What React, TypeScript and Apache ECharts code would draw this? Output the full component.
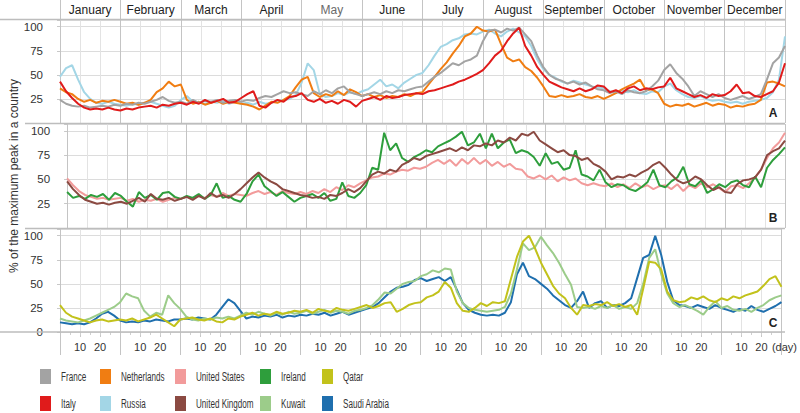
import React, { useEffect, useRef } from 'react';
import * as echarts from 'echarts';

// ---------- labels ----------
const months = ['January', 'February', 'March', 'April', 'May', 'June', 'July', 'August', 'September', 'October', 'November', 'December'];
const dayTickLabels = ['10', '20'];
const dayAxisName = '(day)';
const yAxisTitle = '% of the maximum peak in a country';
const panelLetters = ['A', 'B', 'C'];

// samples: 10 per month (month units on the x axis), plus the year end
const samplesPerMonth = 10;
const tPos = Array.from({ length: 12 * samplesPerMonth + 1 }, (_, i) => i / samplesPerMonth);

// ---------- panel A ----------
const france = [
  24, 20, 18, 17, 18, 16, 17, 18, 17, 19,
  18, 20, 19, 21, 20, 22, 24, 27, 23, 21,
  22, 20, 24, 21, 23, 22, 24, 21, 23, 24,
  22, 24, 23, 26, 28, 27, 30, 33, 31, 32,
  30, 28, 33, 30, 34, 31, 36, 38, 32, 30,
  28, 30, 32, 30, 33, 31, 34, 33, 35, 37,
  38, 43, 48, 52, 57, 62, 60, 64, 66, 70,
  85, 96, 97, 94, 98, 96, 99, 92, 85, 70,
  58, 50, 46, 44, 41, 43, 40, 42, 38, 35,
  34, 31, 33, 30, 34, 32, 31, 33, 38, 44,
  55, 61, 52, 46, 38, 28, 33, 30, 27, 30,
  26, 24, 26, 28, 25, 27, 30, 45, 62, 68, 80,
];
const italy = [
  43, 33, 26, 20, 16, 14, 15, 14, 16, 14,
  13, 15, 14, 16, 17, 18, 16, 19, 18, 20,
  21, 19, 22, 20, 24, 21, 23, 25, 21, 22,
  26, 30, 33, 18, 16, 21, 24, 22, 27, 28,
  31, 24, 22, 25, 21, 23, 20, 24, 22, 17,
  23, 25, 27, 24, 28, 26, 27, 29, 30, 31,
  30, 33, 34, 36, 38, 40, 43, 45, 48, 51,
  55, 62, 70, 75, 85, 93, 99, 80, 70, 58,
  50, 43, 40, 37, 35, 33, 36, 33, 35, 39,
  38, 32, 34, 31, 36, 38, 34, 36, 35, 37,
  38, 47, 36, 33, 30, 27, 29, 26, 30, 28,
  29, 33, 40, 31, 32, 28, 27, 30, 33, 42, 62,
];
const netherlands = [
  36, 32, 30, 25, 22, 24, 21, 23, 22, 24,
  22, 20, 21, 19, 21, 24, 32, 36, 43, 38,
  40, 24, 20, 22, 19, 21, 23, 20, 22, 21,
  20, 19, 17, 14, 18, 22, 21, 24, 28, 37,
  45, 48, 31, 27, 30, 28, 33, 29, 35, 32,
  28, 30, 27, 29, 26, 28, 27, 30, 28, 31,
  32, 40, 48, 56, 63, 72, 80, 90, 93, 100,
  96, 95, 97, 82, 68, 64, 66, 58, 54, 47,
  38, 28, 27, 29, 27, 28, 30, 27, 26, 28,
  25, 28, 31, 35, 38, 41, 45, 34, 35, 31,
  20, 17, 19, 18, 20, 17, 19, 21, 18, 20,
  19, 16, 18, 17, 19, 20, 24, 42, 43, 41, 38,
];
const russia = [
  48, 57, 60, 45, 32, 25, 21, 20, 22, 20,
  19, 18, 20, 19, 21, 22, 20, 18, 16, 18,
  24, 28, 22, 21, 20, 22, 21, 23, 20, 22,
  20, 21, 19, 22, 20, 21, 23, 24, 25, 29,
  42, 62, 55, 30, 27, 28, 31, 29, 32, 30,
  33, 35, 40, 45, 38, 40, 36, 42, 46, 50,
  52, 60, 70, 79, 82, 86, 88, 92, 93, 92,
  95, 97, 93, 90, 95, 98, 94, 90, 80, 66,
  56, 50, 47, 43, 41, 44, 42, 40, 38, 37,
  36, 33, 31, 34, 32, 34, 31, 30, 33, 32,
  38, 41, 34, 30, 27, 26, 28, 25, 23, 24,
  22, 21, 22, 20, 22, 23, 24, 26, 32, 45, 90,
];

// ---------- panel B ----------
const unitedStates = [
  51, 44, 38, 34, 32, 30, 31, 29, 30, 31,
  28, 30, 27, 29, 28, 30, 27, 29, 31, 30,
  32, 30, 33, 31, 34, 32, 36, 33, 35, 34,
  33, 36, 38, 35, 37, 34, 38, 36, 35, 37,
  35, 38, 36, 40, 37, 42, 39, 44, 42, 46,
  49, 52, 53, 56, 55, 58, 60, 59, 62, 61,
  63, 67, 70, 66, 70, 64, 71, 66, 72, 66,
  70, 64, 68, 63, 66, 61, 60, 53, 51, 54,
  50, 54, 48, 52, 49, 51, 46, 44, 46, 44,
  43, 46, 42, 45, 41, 46, 42, 44, 40, 43,
  44, 40, 45, 38, 44, 41, 46, 42, 45, 41,
  37, 43, 44, 41, 46, 52, 60, 72, 82, 88, 98,
];
const unitedKingdom = [
  48, 40, 34, 29, 27, 25, 26, 24, 26, 27,
  25, 28, 31, 27, 35, 30, 29, 31, 28, 30,
  32, 29, 33, 30, 36, 32, 34, 31, 35, 40,
  46, 52, 57, 52, 48, 45, 40, 38, 36, 34,
  33, 31, 32, 30, 34, 33, 36, 40, 37, 41,
  48, 55, 58, 56, 60, 58, 65, 68, 72, 70,
  74, 76, 78, 80, 82, 79, 83, 80, 85, 84,
  87, 85, 90, 88, 93, 90, 97, 95, 99, 90,
  86, 82, 78, 80, 75, 74, 70, 72, 66, 63,
  58, 50, 53, 52, 55, 53, 57, 60, 65, 68,
  62, 55, 49, 46, 48, 53, 50, 44, 39, 42,
  37, 36, 45, 49, 50, 52, 60, 75, 79, 82, 90,
];
const ireland = [
  37, 31, 33, 30, 34, 32, 35, 29, 36, 33,
  27, 22, 37, 31, 34, 29, 36, 37, 32, 30,
  33, 31, 35, 30, 34, 46, 31, 33, 29, 27,
  35, 48, 55, 43, 38, 33, 37, 32, 27, 31,
  33, 35, 31, 36, 28, 30, 47, 33, 31, 36,
  44, 62, 60, 98, 80, 87, 72, 68, 73, 76,
  80, 78, 84, 87, 90, 94, 99, 85, 88, 97,
  82, 97, 82, 88, 91, 77, 80, 78, 73, 64,
  77, 66, 68, 60, 62, 80, 55, 53, 49, 60,
  47, 42, 45, 44, 40, 38, 42, 47, 60, 44,
  42, 48, 52, 63, 45, 43, 49, 36, 40, 45,
  42, 47, 49, 44, 42, 53, 42, 62, 70, 76, 83,
];

// ---------- panel C ----------
const kuwait = [
  14, 12, 11, 10, 12, 14, 17, 20, 23, 26,
  31, 40, 37, 35, 22, 16, 20, 18, 38, 30,
  24, 16, 13, 12, 14, 13, 15, 14, 16, 14,
  17, 20, 18, 21, 19, 17, 20, 18, 21, 19,
  20, 22, 19, 21, 23, 20, 22, 21, 19, 22,
  23, 25, 28, 34, 41, 40, 45, 50, 52, 53,
  58, 60, 64, 62, 66, 65, 42, 30, 25, 23,
  22, 21, 22, 23, 26, 40, 65, 92, 85, 88,
  99, 90, 82, 72, 60, 49, 26, 25, 26, 24,
  27, 25, 28, 24, 26, 24, 30, 50, 77, 86,
  60, 40, 30, 26, 28, 25, 22, 18, 26, 32,
  25, 27, 23, 22, 24, 21, 25, 28, 33, 36, 38,
];
const qatar = [
  28, 20, 16, 14, 12, 10, 12, 13, 11, 12,
  13, 12, 14, 11, 13, 15, 18, 14, 10, 6,
  13, 14, 15, 13, 12, 14, 11, 10, 14, 13,
  16, 18, 20, 17, 19, 18, 21, 19, 20, 22,
  21, 23, 20, 24, 22, 21, 25, 23, 22, 24,
  26, 28, 25, 27, 30, 31, 21, 24, 28, 30,
  31, 36, 38, 42, 52, 46, 30, 22, 21, 25,
  30, 27, 31, 30, 32, 55, 78, 94, 100, 87,
  72, 60, 48, 40, 35, 25, 18, 28, 27, 29,
  28, 31, 27, 29, 26, 28, 18, 45, 73, 72,
  65, 42, 33, 31, 32, 36, 34, 37, 33, 31,
  35, 33, 37, 35, 38, 40, 42, 48, 55, 58, 47,
];
const saudiArabia = [
  10, 9, 8, 9, 8, 10, 14, 19, 21, 17,
  12, 10, 11, 10, 12, 11, 13, 12, 11, 13,
  13, 14, 13, 15, 14, 13, 18, 26, 34, 30,
  22, 14, 16, 15, 17, 16, 18, 15, 17, 16,
  18, 17, 19, 18, 20, 17, 19, 21, 18, 20,
  22, 24, 26, 30, 36, 42, 46, 47, 49, 54,
  56, 53, 55, 57, 53, 57, 44, 30, 23, 20,
  18, 17, 18, 17, 20, 31, 60, 72, 58, 55,
  50, 45, 38, 33, 28, 25, 32, 42, 25, 30,
  32, 25, 28, 27, 30, 35, 56, 77, 80, 100,
  80, 52, 33, 28, 27, 25, 28, 26, 24, 28,
  25, 23, 21, 24, 22, 27, 23, 21, 24, 27, 31,
];

const FONT = "'Liberation Sans', Arial, Helvetica, sans-serif";

type S = { name: string; color: string; values: number[]; panel: number };
// drawing order within each panel: later ones on top
const seriesDefs: S[] = [
  { name: 'Russia', color: '#a3d6e6', values: russia, panel: 1 },
  { name: 'Netherlands', color: '#f07d12', values: netherlands, panel: 1 },
  { name: 'France', color: '#a3a3a3', values: france, panel: 1 },
  { name: 'Italy', color: '#e01b1b', values: italy, panel: 1 },
  { name: 'United States', color: '#f29b9b', values: unitedStates, panel: 2 },
  { name: 'Ireland', color: '#2e9e3c', values: ireland, panel: 2 },
  { name: 'United Kingdom', color: '#8b4a42', values: unitedKingdom, panel: 2 },
  { name: 'Saudi Arabia', color: '#1f6fae', values: saudiArabia, panel: 3 },
  { name: 'Kuwait', color: '#9ccc8a', values: kuwait, panel: 3 },
  { name: 'Qatar', color: '#c2c21b', values: qatar, panel: 3 },
];

const legendCols = [
  ['France', 'Italy'],
  ['Netherlands', 'Russia'],
  ['United States', 'United Kingdom'],
  ['Ireland', 'Kuwait'],
  ['Qatar', 'Saudi Arabia'],
];
const legendLeft = [40, 100, 175, 260, 322];
const LEGEND_TOP = 369;
const LEGEND_ROW = 27;

const MONTH_LINE = '#c4c4c4';
const DAY_LINE = '#e3e3e3';

function dataXAxis(gi: number) {
  return {
    type: 'value', gridIndex: gi, min: 0, max: 12, interval: 1,
    axisLine: { show: false }, axisTick: { show: false }, axisLabel: { show: false },
    splitLine: { show: true, lineStyle: { color: MONTH_LINE, width: 1 } },
    minorTick: { show: false, splitNumber: 3 },
    minorSplitLine: { show: true, lineStyle: { color: DAY_LINE, width: 1 } },
  };
}

function dataYAxis(gi: number, showZero: boolean, extra: any = {}) {
  return {
    type: 'value', gridIndex: gi, min: 0, max: 107, interval: 25,
    axisLine: { show: false },
    axisTick: { show: true, length: 3, lineStyle: { color: '#c8c8c8' } },
    axisLabel: {
      fontSize: 11.5, color: '#333', margin: 17, fontFamily: FONT,
      formatter: (v: number) => (v % 25 !== 0 ? '' : v === 0 && !showZero ? '' : String(v)),
    },
    splitLine: { show: true, lineStyle: { color: '#dcdcdc' } },
    ...extra,
  };
}

const dayLabelValues: number[] = [];
for (let m = 0; m < 12; m++) dayLabelValues.push(m + 1 / 3, m + 2 / 3);
dayLabelValues.push(12);

export default function App() {
  const ref = useRef<HTMLDivElement>(null);
  useEffect(() => {
    if (!ref.current) return;
    const chart = echarts.init(ref.current, null, { renderer: 'svg' });
    const option: any = {
      animation: false,
      backgroundColor: '#ffffff',
      textStyle: { fontFamily: FONT },
      grid: [
        { left: 60, right: 15, top: 0, height: 20 },
        { left: 60, right: 15, top: 20, height: 103 },
        { left: 60, right: 15, top: 124, height: 104 },
        { left: 60, right: 15, top: 229, height: 103 },
      ],
      xAxis: [
        {
          type: 'category', gridIndex: 0, data: months, position: 'bottom', boundaryGap: true,
          axisLine: { show: false }, axisTick: { show: false },
          axisLabel: {
            inside: true, margin: 4, interval: 0, fontSize: 12, color: '#222', fontFamily: FONT,
            formatter: (v: string) => (v === 'May' ? '{g|' + v + '}' : v),
            rich: { g: { color: '#6a6a6a', fontSize: 12, fontFamily: FONT } },
          },
          splitLine: { show: true, interval: 0, lineStyle: { color: MONTH_LINE, width: 1 } },
        },
        dataXAxis(1),
        dataXAxis(2),
        {
          ...dataXAxis(3),
          position: 'bottom',
          axisTick: { show: true, length: 23, lineStyle: { color: MONTH_LINE } },
          minorTick: { show: true, splitNumber: 3, length: 5, lineStyle: { color: '#c8c8c8' } },
          axisLabel: {
            show: true, customValues: dayLabelValues, margin: 9, fontSize: 11, color: '#333', fontFamily: FONT,
            hideOverlap: false,
            formatter: (v: number) => {
              if (v >= 11.99) return '{d|' + dayAxisName + '}';
              const f = v - Math.floor(v);
              return f < 0.5 ? dayTickLabels[0] : dayTickLabels[1];
            },
            rich: { d: { fontSize: 11, color: '#333', fontFamily: FONT, padding: [0, 0, 0, 6] } },
          },
        },
        {
          type: 'value', gridIndex: 3, min: 0, max: 12, interval: 1, position: 'bottom',
          axisLine: { show: false }, axisTick: { show: false }, axisLabel: { show: false },
          splitLine: { show: false },
          minorTick: { show: true, splitNumber: 6, length: 3, lineStyle: { color: '#cfcfcf' } },
          minorSplitLine: { show: false },
        },
      ],
      yAxis: [
        { type: 'value', gridIndex: 0, show: false, min: 0, max: 1 },
        dataYAxis(1, false),
        dataYAxis(2, false, {
          name: yAxisTitle, nameLocation: 'middle', nameGap: 46,
          nameTextStyle: { fontSize: 12, color: '#333', fontFamily: FONT },
        }),
        dataYAxis(3, true),
      ],
      legend: legendCols.map((names, i) => ({
        data: names, orient: 'vertical', left: legendLeft[i], top: LEGEND_TOP,
        itemWidth: 11, itemHeight: 15, itemGap: LEGEND_ROW - 15, icon: 'rect', selectedMode: false, padding: 0,
        formatter: () => '',
        textStyle: { fontSize: 12, color: '#333', fontFamily: FONT },
      })),
      series: seriesDefs.map((s) => ({
        name: s.name, type: 'line', xAxisIndex: s.panel, yAxisIndex: s.panel,
        data: tPos.map((t, i) => [t, s.values[i]]),
        showSymbol: false, symbol: 'none', color: s.color,
        lineStyle: { color: s.color, width: 2 }, itemStyle: { color: s.color },
        emphasis: { disabled: true }, silent: true,
      })),
      graphic: [
        { type: 'line', shape: { x1: 0, y1: 19.5, x2: 785, y2: 19.5 }, style: { stroke: '#bdbdbd', lineWidth: 1.5 }, z: 10 },
        { type: 'line', shape: { x1: 25, y1: 123.5, x2: 785, y2: 123.5 }, style: { stroke: '#bdbdbd', lineWidth: 1.5 }, z: 10 },
        { type: 'line', shape: { x1: 25, y1: 228.5, x2: 785, y2: 228.5 }, style: { stroke: '#bdbdbd', lineWidth: 1.5 }, z: 10 },
        { type: 'line', shape: { x1: 0, y1: 332, x2: 785, y2: 332 }, style: { stroke: '#bdbdbd', lineWidth: 1.5 }, z: 10 },
        ...panelLetters.map((l, i) => ({
          type: 'text', x: 773, y: [113, 218, 323][i], z: 12,
          style: { text: l, fontSize: 12, fontWeight: 'bold', fill: '#222', fontFamily: FONT, align: 'center', verticalAlign: 'middle' },
        })),
        // legend labels (condensed type as in the original)
        ...legendCols.flatMap((names, i) =>
          names.map((n, j) => ({
            type: 'text', x: legendLeft[i] + 21, y: LEGEND_TOP + 7.5 + j * LEGEND_ROW, scaleX: 0.6, z: 12,
            style: { text: n, fontSize: 13.5, fill: '#333', fontFamily: FONT, align: 'left', verticalAlign: 'middle' },
          }))
        ),
      ],
    };
    chart.setOption(option);
    return () => chart.dispose();
  }, []);
  return <div ref={ref} style={{ position: 'absolute', left: 0, top: 0, width: 800, height: 413 }} />;
}
